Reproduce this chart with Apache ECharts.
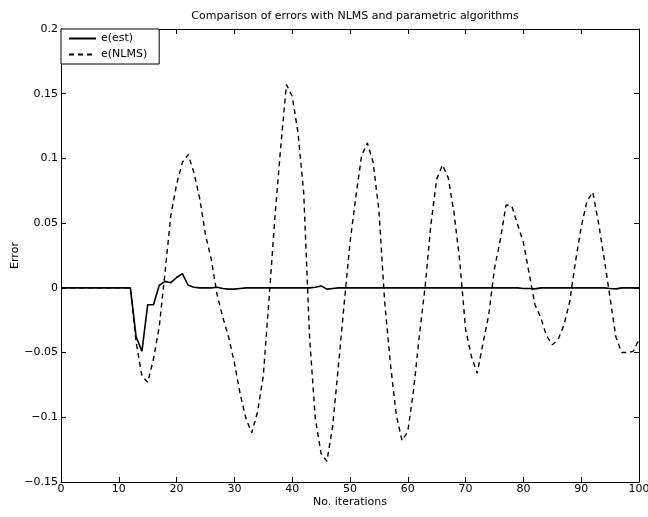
<!DOCTYPE html>
<html>
<head>
<meta charset="utf-8">
<script src="https://cdn.jsdelivr.net/npm/echarts@6/dist/echarts.min.js"></script>
<style>
html,body{margin:0;padding:0;background:#fff;}
#chart{width:648px;height:517px;}
</style>
</head>
<body>
<div id="chart"></div>
<script>
var titleText = 'Comparison of errors with NLMS and parametric algorithms';
var xName = 'No. iterations';
var yName = 'Error';
var seriesNames = ['e(est)', 'e(NLMS)'];

var xTickValues = [0, 10, 20, 30, 40, 50, 60, 70, 80, 90, 100];
var xTickLabels = ['0', '10', '20', '30', '40', '50', '60', '70', '80', '90', '100'];
var yTickValues = [-0.15, -0.1, -0.05, 0, 0.05, 0.1, 0.15, 0.2];
var yTickLabels = ['\u22120.15', '\u22120.1', '\u22120.05', '0', '0.05', '0.1', '0.15', '0.2'];

// e(est), iterations 0..100
var errEst = [
  0, 0, 0, 0, 0, 0, 0, 0, 0, 0,
  0, 0, 0, -0.038, -0.049, -0.013, -0.013, 0.002, 0.005, 0.004,
  0.008, 0.011, 0.002, 0.0005, 0, 0, 0, 0.0005, -0.0005, -0.001,
  -0.001, -0.0005, 0, 0, 0, 0, 0, 0, 0, 0,
  0, 0, 0, 0, 0.0005, 0.0015, -0.001, -0.0005, 0, 0,
  0, 0, 0, 0, 0, 0, 0, 0, 0, 0,
  0, 0, 0, 0, 0, 0, 0, 0, 0, 0,
  0, 0, 0, 0, 0, 0, 0, 0, 0, 0,
  -0.0005, -0.0005, -0.0008, 0, 0, 0, 0, 0, 0, 0,
  0, 0, 0, 0, 0, -0.0005, -0.0008, 0, 0, 0,
  0
];

// e(NLMS), iterations 0..100
var errNlms = [
  0, 0, 0, 0, 0, 0, 0, 0, 0, 0,
  0, 0, 0, -0.042, -0.068, -0.073, -0.055, -0.030, 0.012, 0.056,
  0.080, 0.097, 0.103, 0.089, 0.069, 0.041, 0.022, -0.005, -0.023, -0.038,
  -0.058, -0.082, -0.101, -0.112, -0.096, -0.068, -0.008, 0.054, 0.108, 0.157,
  0.148, 0.120, 0.073, -0.038, -0.101, -0.128, -0.134, -0.107, -0.060, -0.012,
  0.035, 0.070, 0.102, 0.112, 0.097, 0.060, -0.011, -0.059, -0.098, -0.118,
  -0.111, -0.079, -0.037, 0.001, 0.049, 0.084, 0.095, 0.085, 0.058, 0.020,
  -0.032, -0.053, -0.066, -0.043, -0.021, 0.015, 0.037, 0.064, 0.063, 0.049,
  0.035, 0.011, -0.013, -0.023, -0.037, -0.044, -0.040, -0.029, -0.011, 0.020,
  0.047, 0.067, 0.074, 0.050, 0.022, -0.008, -0.038, -0.050, -0.050, -0.049,
  -0.040
];

function pairs(arr) {
  return arr.map(function (v, i) { return [i, v]; });
}

var xMin = xTickValues[0], xMax = xTickValues[xTickValues.length - 1];
var xStep = xTickValues[1] - xTickValues[0];
var yMin = yTickValues[0], yMax = yTickValues[yTickValues.length - 1];
var yStep = 0.05;

function xLab(v) {
  var i = xTickValues.indexOf(Math.round(v));
  return i >= 0 ? xTickLabels[i] : '';
}
function yLab(v) {
  var i = Math.round((v - yMin) / yStep);
  return yTickLabels[i] !== undefined ? yTickLabels[i] : '';
}

var FONT = 'DejaVu Sans';
var axisLineStyle = { onZero: false, lineStyle: { color: '#000', width: 1 } };
var tickStyle = { inside: true, length: 5, lineStyle: { color: '#000', width: 1 } };

var chart = echarts.init(document.getElementById('chart'), null, { renderer: 'canvas' });
chart.setOption({
  backgroundColor: '#fff',
  animation: false,
  title: {
    text: titleText,
    left: 350,
    textAlign: 'center',
    top: 6,
    textStyle: { fontFamily: FONT, fontSize: 11, fontWeight: 'normal', color: '#000' }
  },
  grid: { left: 61, right: 9, top: 29, bottom: 35, containLabel: false, outerBoundsMode: 'none' },
  legend: {
    data: seriesNames,
    orient: 'vertical',
    left: 61,
    top: 29,
    padding: [4, 12, 4, 7],
    itemWidth: 27,
    itemHeight: 10,
    itemGap: 5,
    borderColor: '#000',
    borderWidth: 1,
    borderRadius: 0,
    backgroundColor: '#fff',
    itemStyle: { opacity: 0 },
    textStyle: { fontFamily: FONT, fontSize: 11, color: '#000' }
  },
  xAxis: [{
    type: 'value',
    min: xMin, max: xMax, interval: xStep,
    position: 'bottom',
    name: xName,
    nameLocation: 'middle',
    nameGap: 15,
    nameMoveOverlap: false,
    nameTextStyle: { fontFamily: FONT, fontSize: 11, color: '#000' },
    axisLine: axisLineStyle,
    axisTick: tickStyle,
    axisLabel: { formatter: xLab, margin: 2, fontFamily: FONT, fontSize: 11, color: '#000' },
    splitLine: { show: false }
  }, {
    type: 'value',
    min: xMin, max: xMax, interval: xStep,
    position: 'top',
    axisLine: axisLineStyle,
    axisTick: tickStyle,
    axisLabel: { show: false },
    splitLine: { show: false }
  }],
  yAxis: [{
    type: 'value',
    min: yMin, max: yMax, interval: yStep,
    position: 'left',
    name: yName,
    nameLocation: 'middle',
    nameGap: 40,
    nameMoveOverlap: false,
    nameTextStyle: { fontFamily: FONT, fontSize: 11, color: '#000' },
    axisLine: axisLineStyle,
    axisTick: tickStyle,
    axisLabel: { formatter: yLab, margin: 3, fontFamily: FONT, fontSize: 11, color: '#000' },
    splitLine: { show: false }
  }, {
    type: 'value',
    min: yMin, max: yMax, interval: yStep,
    position: 'right',
    axisLine: axisLineStyle,
    axisTick: tickStyle,
    axisLabel: { show: false },
    splitLine: { show: false }
  }],
  series: [{
    name: seriesNames[0],
    type: 'line',
    xAxisIndex: 0, yAxisIndex: 0,
    data: pairs(errEst),
    symbol: 'none',
    lineStyle: { color: '#000', width: 1.6, type: 'solid' },
    itemStyle: { color: '#000' },
    z: 3
  }, {
    name: seriesNames[1],
    type: 'line',
    xAxisIndex: 0, yAxisIndex: 0,
    data: pairs(errNlms),
    symbol: 'none',
    lineStyle: { color: '#000', width: 1.4, type: [5, 4] },
    itemStyle: { color: '#000' },
    z: 2
  }]
});
</script>
</body>
</html>
